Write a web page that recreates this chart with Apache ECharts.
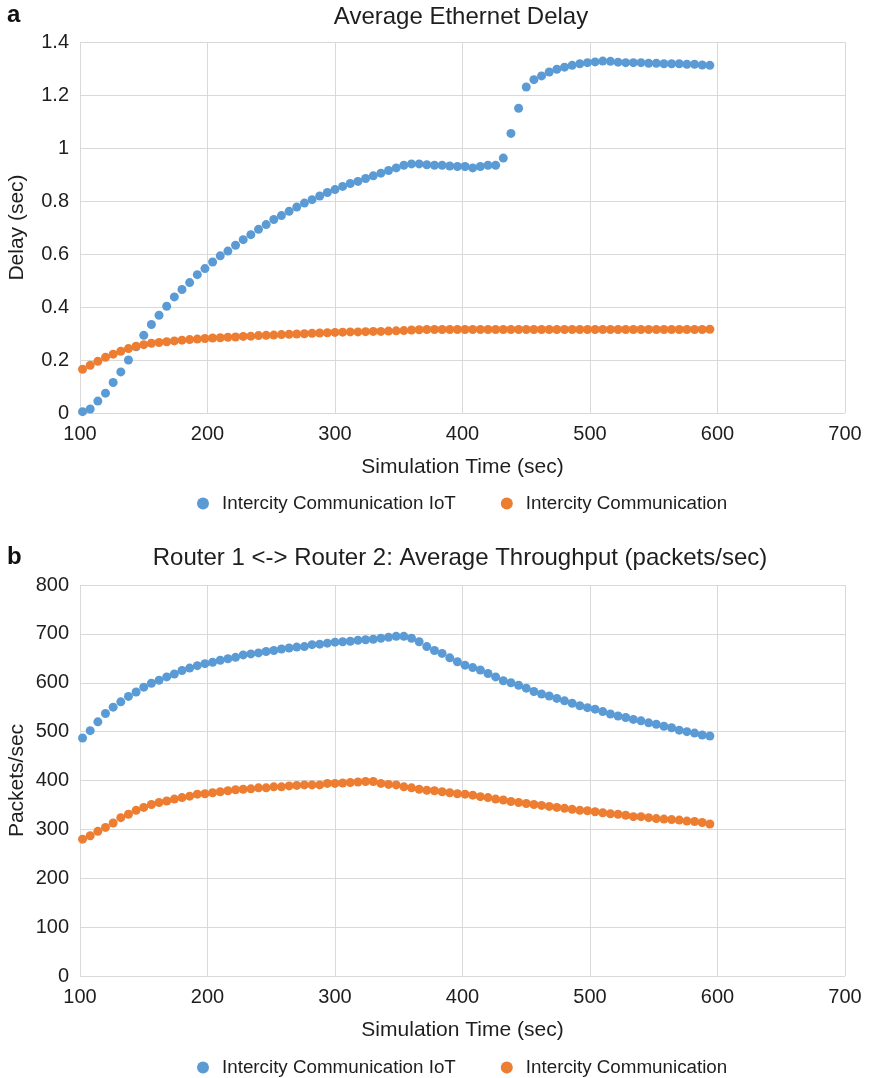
<!DOCTYPE html>
<html>
<head>
<meta charset="utf-8">
<script src="https://cdn.jsdelivr.net/npm/echarts@6/dist/echarts.min.js"></script>
<style>
html,body{margin:0;padding:0;background:#fff;}
#chart{width:869px;height:1078px;}
</style>
</head>
<body>
<div id="chart"></div>
<script>
// Simulation time (sec)
const times = [102,108,114,120,126,132,138,144,150,156,162,168,174,180,186,192,198,204,210,216,222,228,234,240,246,252,258,264,270,276,282,288,294,300,306,312,318,324,330,336,342,348,354,360,366,372,378,384,390,396,402,408,414,420,426,432,438,444,450,456,462,468,474,480,486,492,498,504,510,516,522,528,534,540,546,552,558,564,570,576,582,588,594];

// (a) Average Ethernet Delay (sec)
const delayIoT = [0.005,0.015,0.045,0.075,0.115,0.155,0.2,0.25,0.293,0.334,0.369,0.403,0.438,0.466,0.492,0.522,0.545,0.57,0.593,0.611,0.633,0.654,0.673,0.693,0.711,0.73,0.745,0.761,0.777,0.792,0.805,0.819,0.832,0.843,0.855,0.866,0.874,0.885,0.895,0.905,0.915,0.925,0.935,0.94,0.94,0.937,0.935,0.935,0.932,0.93,0.93,0.925,0.93,0.935,0.935,0.962,1.055,1.15,1.23,1.258,1.272,1.287,1.297,1.305,1.312,1.318,1.322,1.325,1.328,1.327,1.324,1.322,1.322,1.322,1.32,1.32,1.318,1.318,1.318,1.316,1.316,1.313,1.312];
const delayBase = [0.165,0.18,0.195,0.21,0.222,0.233,0.243,0.252,0.258,0.263,0.266,0.269,0.272,0.275,0.277,0.279,0.281,0.283,0.284,0.286,0.287,0.289,0.29,0.292,0.293,0.294,0.296,0.297,0.298,0.299,0.301,0.302,0.303,0.304,0.305,0.306,0.306,0.307,0.308,0.308,0.309,0.31,0.311,0.313,0.314,0.315,0.315,0.315,0.315,0.315,0.315,0.315,0.315,0.315,0.315,0.315,0.315,0.315,0.315,0.315,0.315,0.315,0.315,0.315,0.315,0.315,0.315,0.315,0.315,0.315,0.315,0.315,0.315,0.315,0.315,0.315,0.315,0.315,0.315,0.315,0.315,0.315,0.316];

// (b) Router 1 <-> Router 2 Average Throughput (packets/sec)
const thruIoT = [487,502,520,537,550,561,572,581,591,599,605,612,618,625,630,635,639,642,646,649,652,657,659,661,664,666,669,671,673,674,678,679,681,683,684,685,687,688,689,691,693,695,695,691,684,674,666,660,651,643,636,631,626,619,612,604,600,595,589,582,577,573,568,563,558,553,549,546,541,536,532,529,525,522,518,515,511,508,503,500,497,493,491];
const thruBase = [280,287,296,304,313,324,331,339,345,351,355,358,362,365,368,372,373,375,377,379,381,382,383,385,385,387,387,389,390,391,391,391,394,394,395,396,397,398,398,394,392,391,387,385,382,380,379,377,375,373,372,370,367,365,362,360,357,355,353,351,349,347,345,343,341,339,338,336,334,332,331,329,326,326,324,322,321,320,319,317,316,314,311];

const seriesNames = ['Intercity Communication IoT','Intercity Communication'];
const colors = ['#5B9BD5','#ED7D31'];

function pairs(xs, ys){ return xs.map((x,i)=>[x, ys[i]]); }

const FONT = 'Liberation Sans, Arial, sans-serif';
const gridColor = '#d9d9d9';
const textColor = '#1e1e1e';

const chart = echarts.init(document.getElementById('chart'), null, {renderer:'canvas'});

function xAx(gridIndex){
  return {
    gridIndex, type:'value', min:100, max:700, interval:100,
    name:'Simulation Time (sec)', nameLocation:'middle', nameGap:44, nameMoveOverlap:false,
    nameTextStyle:{fontFamily:FONT, fontSize:21, color:textColor},
    axisLine:{show:false}, axisTick:{show:false},
    axisLabel:{fontFamily:FONT, fontSize:20, color:textColor, margin:11},
    splitLine:{show:true, lineStyle:{color:gridColor, width:1}}
  };
}
function yAx(gridIndex, max, interval, name){
  return {
    gridIndex, type:'value', min:0, max, interval,
    name, nameLocation:'middle', nameGap:52, nameMoveOverlap:false,
    nameTextStyle:{fontFamily:FONT, fontSize:21, color:textColor},
    axisLine:{show:false}, axisTick:{show:false},
    axisLabel:{fontFamily:FONT, fontSize:20, color:textColor, margin:11},
    splitLine:{show:true, lineStyle:{color:gridColor, width:1}}
  };
}

function legendAt(top){
  return {top, left:192, icon:'circle', itemWidth:28, itemHeight:12, itemGap:45,
    textStyle:{fontFamily:FONT, fontSize:18.8, color:textColor},
    data:seriesNames};
}

const option = {
  animation:false,
  backgroundColor:'#fff',
  color: colors,
  title:[
    {text:'a', left:7, top:3, padding:0, textStyle:{fontFamily:FONT, fontSize:24, fontWeight:'bold', color:'#111'}},
    {text:'Average Ethernet Delay', left:461, textAlign:'center', top:5, padding:0, textStyle:{fontFamily:FONT, fontSize:24, fontWeight:'normal', color:textColor}},
    {text:'b', left:7, top:545, padding:0, textStyle:{fontFamily:FONT, fontSize:24, fontWeight:'bold', color:'#111'}},
    {text:'Router 1 <-> Router 2: Average Throughput (packets/sec)', left:460, textAlign:'center', top:546, padding:0, textStyle:{fontFamily:FONT, fontSize:24, fontWeight:'normal', color:textColor}}
  ],
  legend:[legendAt(489), legendAt(1053)],
  grid:[
    {left:80, right:24, top:42, height:371, containLabel:false, outerBoundsMode:'none'},
    {left:80, right:24, top:585, height:391, containLabel:false, outerBoundsMode:'none'}
  ],
  xAxis:[xAx(0), xAx(1)],
  yAxis:[yAx(0, 1.4, 0.2, 'Delay (sec)'), yAx(1, 800, 100, 'Packets/sec')],
  series:[
    {name:seriesNames[0], type:'scatter', xAxisIndex:0, yAxisIndex:0, symbolSize:9, itemStyle:{color:colors[0], opacity:1}, data:pairs(times, delayIoT)},
    {name:seriesNames[1], type:'scatter', xAxisIndex:0, yAxisIndex:0, symbolSize:9, itemStyle:{color:colors[1], opacity:1}, data:pairs(times, delayBase)},
    {name:seriesNames[0], type:'scatter', xAxisIndex:1, yAxisIndex:1, symbolSize:9, itemStyle:{color:colors[0], opacity:1}, data:pairs(times, thruIoT)},
    {name:seriesNames[1], type:'scatter', xAxisIndex:1, yAxisIndex:1, symbolSize:9, itemStyle:{color:colors[1], opacity:1}, data:pairs(times, thruBase)}
  ]
};
chart.setOption(option);
</script>
</body>
</html>
